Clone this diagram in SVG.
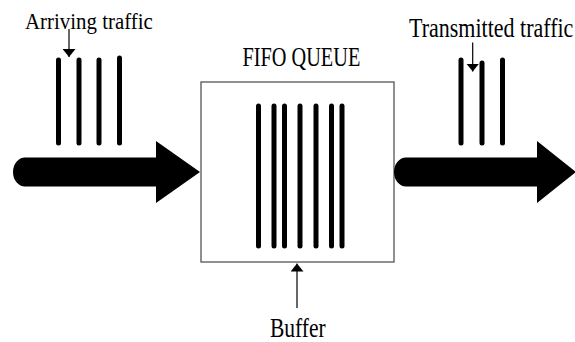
<svg xmlns="http://www.w3.org/2000/svg" width="575" height="342" viewBox="0 0 575 342">
  <style>
    .lbl { font-family: "Liberation Serif", "Times New Roman", serif; fill: #000; }
    .pkt { stroke: #000; stroke-width: 5; stroke-linecap: round; fill: none; }
    .ptr { stroke: #000; stroke-width: 1.2; fill: none; }
    .flow { fill: #000; }
  </style>
  <defs>
    <marker id="head" viewBox="0 0 10 10" refX="10" refY="5" markerWidth="8" markerHeight="13" markerUnits="userSpaceOnUse" orient="auto" preserveAspectRatio="none">
      <path d="M0,0 L10,5 L0,10 Z" fill="#000"/>
    </marker>
  </defs>

  <!-- incoming flow -->
  <g id="arriving">
    <path class="flow" d="M25,157.5 H156 V141 L200,172 L156,203 V186.5 H25 A12,14.5 0 0 1 25,157.5 Z"/>
    <line class="pkt" x1="58.5" y1="60" x2="58.5" y2="143"/>
    <line class="pkt" x1="79" y1="60" x2="79" y2="143"/>
    <line class="pkt" x1="99" y1="60" x2="99" y2="143"/>
    <line class="pkt" x1="119.5" y1="58" x2="119.5" y2="143"/>
    <text class="lbl" transform="translate(25,28.5) scale(1,1.14)" font-size="20.9">Arriving traffic</text>
  </g>

  <!-- queue with buffered packets -->
  <g id="fifo-queue">
    <rect x="201" y="82" width="193" height="180" fill="#fff" stroke="#555" stroke-width="1.3"/>
    <line class="pkt" x1="258.5" y1="106" x2="258.5" y2="246"/>
    <line class="pkt" x1="274" y1="106" x2="274" y2="246"/>
    <line class="pkt" x1="284.5" y1="106" x2="284.5" y2="246"/>
    <line class="pkt" x1="300" y1="106" x2="300" y2="246"/>
    <line class="pkt" x1="316" y1="106" x2="316" y2="246"/>
    <line class="pkt" x1="331.5" y1="106" x2="331.5" y2="246"/>
    <line class="pkt" x1="342" y1="106" x2="342" y2="246"/>
    <text class="lbl" transform="translate(242.5,66) scale(1,1.38)" font-size="20.3">FIFO QUEUE</text>
  </g>

  <!-- outgoing flow -->
  <g id="transmitted">
    <path class="flow" d="M406,157.5 H537 V141 L576,172 L537,203 V186.5 H406 A12,14.5 0 0 1 406,157.5 Z"/>
    <line class="pkt" x1="461" y1="60" x2="461" y2="143"/>
    <line class="pkt" x1="482" y1="63" x2="482" y2="143"/>
    <line class="pkt" x1="502.5" y1="60" x2="502.5" y2="143"/>
    <text class="lbl" transform="translate(409,37) scale(1,1.23)" font-size="22">Transmitted traffic</text>
  </g>

  <g id="buffer-label">
    <text class="lbl" transform="translate(270,336.7) scale(1,1.23)" font-size="21.5">Buffer</text>
  </g>

  <!-- pointers from labels -->
  <g id="connectors">
    <line class="ptr" x1="69" y1="29" x2="69" y2="57" marker-end="url(#head)"/>
    <line class="ptr" x1="472.7" y1="42.5" x2="472.7" y2="71.5" marker-end="url(#head)"/>
    <line class="ptr" stroke="#777" x1="297" y1="308" x2="297" y2="263.5" marker-end="url(#head)"/>
  </g>
</svg>
